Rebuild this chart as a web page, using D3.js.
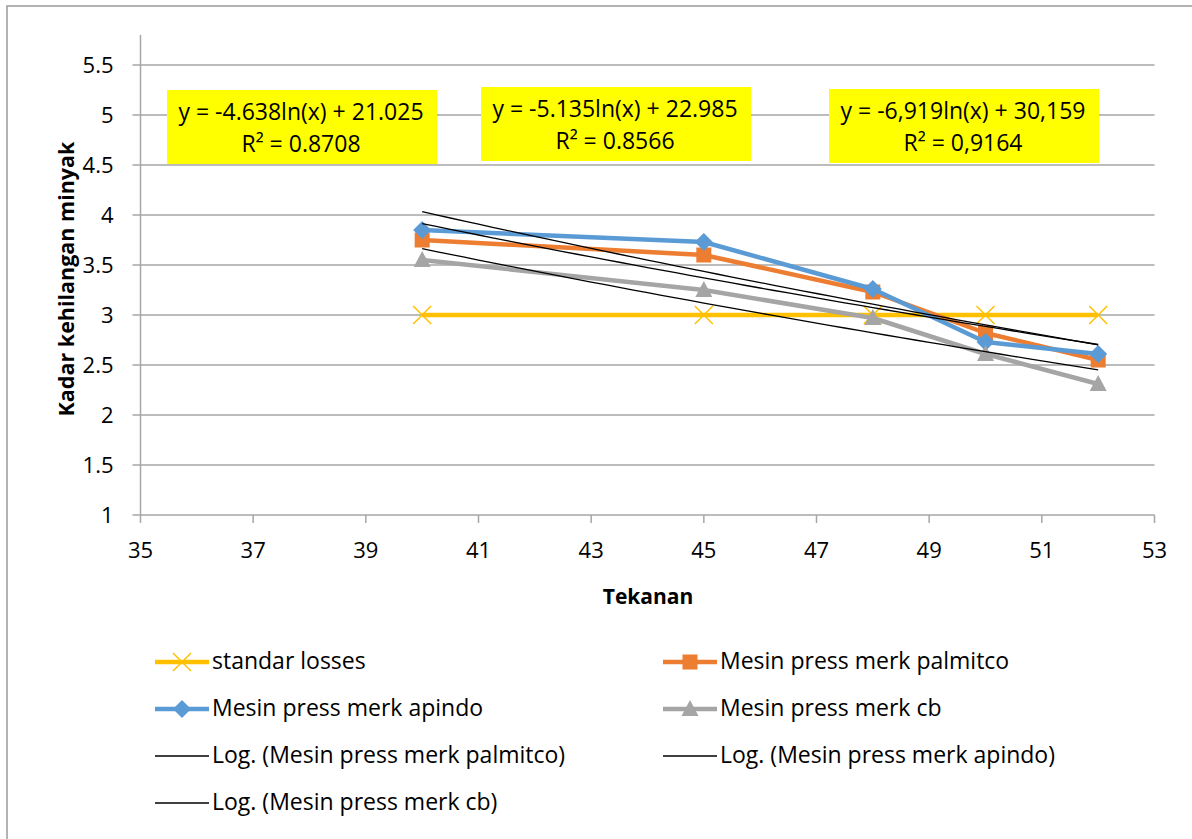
<!DOCTYPE html>
<html><head><meta charset="utf-8">
<script src="https://cdn.jsdelivr.net/npm/d3@7"></script>
<style>
html,body{margin:0;padding:0;background:#fff;}
text{font-family:"Open Sans","Noto Sans",sans-serif;fill:#000;}
</style></head>
<body><svg id="c" width="1192" height="839"></svg>
<script>
const xValues = [40, 45, 48, 50, 52];
const standarLosses = [3, 3, 3, 3, 3];
const palmitco = [3.75, 3.60, 3.23, 2.82, 2.55];
const apindo = [3.85, 3.73, 3.26, 2.73, 2.61];
const cb = [3.55, 3.25, 2.97, 2.61, 2.31];
const xTicks = [35, 37, 39, 41, 43, 45, 47, 49, 51, 53];
const yTicks = [1, 1.5, 2, 2.5, 3, 3.5, 4, 4.5, 5, 5.5];
const seriesNames = ["standar losses", "Mesin press merk palmitco", "Mesin press merk apindo", "Mesin press merk cb"];
const trendNames = ["Log. (Mesin press merk palmitco)", "Log. (Mesin press merk apindo)", "Log. (Mesin press merk cb)"];
const equations = [
  ["y = -4.638ln(x) + 21.025", "R² = 0.8708"],
  ["y = -5.135ln(x) + 22.985", "R² = 0.8566"],
  ["y = -6,919ln(x) + 30,159", "R² = 0,9164"]
];

// layout
const boxLayout = [{x: 167, y: 90}, {x: 481, y: 87}, {x: 829, y: 89}];
const svg = d3.select("#c");
const L = 140.5, R = 1154.5, T = 35, B = 515;
const x = d3.scaleLinear().domain([35, 53]).range([L, R]);
const y = d3.scaleLinear().domain([1, 5.8]).range([B, T]);

// outer border
svg.append("rect").attr("x", 7).attr("y", 6).attr("width", 1200).attr("height", 850)
  .attr("fill", "#fff").attr("stroke", "#9a9a9a").attr("stroke-width", 1.5);

// gridlines
svg.append("g").selectAll("line").data(yTicks).join("line")
  .attr("x1", L - 8).attr("x2", R).attr("y1", d => y(d)).attr("y2", d => y(d))
  .attr("stroke", "#a6a6a6").attr("stroke-width", 1.5);
svg.append("line").attr("x1", L).attr("x2", L).attr("y1", T).attr("y2", B)
  .attr("stroke", "#a6a6a6").attr("stroke-width", 1.5);
svg.append("g").selectAll("line").data(xTicks).join("line")
  .attr("x1", d => x(d)).attr("x2", d => x(d)).attr("y1", B).attr("y2", B + 8)
  .attr("stroke", "#a6a6a6").attr("stroke-width", 1.5);
// tick labels
svg.append("g").selectAll("text").data(xTicks).join("text")
  .attr("x", d => x(d)).attr("y", B + 43).attr("text-anchor", "middle")
  .attr("font-size", 22).text(d => d);
svg.append("g").selectAll("text").data(yTicks).join("text")
  .attr("x", L - 27).attr("y", d => y(d) + 8).attr("text-anchor", "end")
  .attr("font-size", 22).text(d => d);

// axis titles
svg.append("text").attr("x", 648).attr("y", 604).attr("text-anchor", "middle")
  .attr("font-size", 21).attr("font-weight", "bold").text("Tekanan");
svg.append("text").attr("transform", `translate(74,279) rotate(-90)`).attr("text-anchor", "middle")
  .attr("font-size", 21.5).attr("font-weight", "bold").text("Kadar kehilangan minyak");

// equation boxes
equations.forEach((eq, i) => {
  const g = svg.append("g");
  const b = boxLayout[i];
  g.append("rect").attr("x", b.x).attr("y", b.y)
    .attr("width", 270).attr("height", 74).attr("fill", "#ffff00");
  eq.forEach((t, j) => {
    g.append("text").attr("x", b.x + 134).attr("y", b.y + 30 + j * 32)
      .attr("text-anchor", "middle").attr("font-size", 23).text(t);
  });
});

const colors = ["#FFC000", "#ED7D31", "#5B9BD5", "#A5A5A5"];
const allSeries = [standarLosses, palmitco, apindo, cb];
const markers = ["x", "square", "diamond", "triangle"];
const line = d3.line().x(d => x(d[0])).y(d => y(d[1]));

function drawMarker(g, type, cx, cy, color) {
  if (type === "x") {
    const s = 9;
    g.append("path").attr("d", `M${cx-s},${cy-s}L${cx+s},${cy+s}M${cx-s},${cy+s}L${cx+s},${cy-s}`)
      .attr("stroke", color).attr("stroke-width", 1.5).attr("fill", "none");
  } else if (type === "square") {
    g.append("rect").attr("x", cx - 7.5).attr("y", cy - 7.5).attr("width", 15).attr("height", 15).attr("fill", color);
  } else if (type === "diamond") {
    const s = 9;
    g.append("path").attr("d", `M${cx},${cy-s}L${cx+s},${cy}L${cx},${cy+s}L${cx-s},${cy}Z`).attr("fill", color);
  } else {
    g.append("path").attr("d", `M${cx},${cy-9}L${cx+8.5},${cy+7}L${cx-8.5},${cy+7}Z`).attr("fill", color);
  }
}

allSeries.forEach((vals, i) => {
  const pts = xValues.map((xv, k) => [xv, vals[k]]);
  const g = svg.append("g");
  g.append("path").attr("d", line(pts)).attr("fill", "none").attr("stroke", colors[i])
    .attr("stroke-width", 4.5).attr("stroke-linejoin", "round");
  pts.forEach(p => drawMarker(g, markers[i], x(p[0]), y(p[1]), colors[i]));
});

// logarithmic trendlines (least squares on ln x)
function logFit(vals) {
  const lx = xValues.map(Math.log);
  const mx = d3.mean(lx), my = d3.mean(vals);
  const sxy = d3.sum(lx, (v, k) => (v - mx) * (vals[k] - my));
  const sxx = d3.sum(lx, v => (v - mx) ** 2);
  const a = sxy / sxx, b = my - a * mx;
  return xv => a * Math.log(xv) + b;
}
[palmitco, apindo, cb].forEach(vals => {
  const f = logFit(vals);
  const xs = d3.range(40, 52.001, 0.25);
  svg.append("path").attr("d", line(xs.map(v => [v, f(v)]))).attr("fill", "none")
    .attr("stroke", "#000").attr("stroke-width", 1.3);
});

// legend
const legendItems = [
  {name: seriesNames[0], color: colors[0], marker: "x", w: 4.5},
  {name: seriesNames[1], color: colors[1], marker: "square", w: 4.5},
  {name: seriesNames[2], color: colors[2], marker: "diamond", w: 4.5},
  {name: seriesNames[3], color: colors[3], marker: "triangle", w: 4.5},
  {name: trendNames[0], color: "#000", marker: null, w: 1.3},
  {name: trendNames[1], color: "#000", marker: null, w: 1.3},
  {name: trendNames[2], color: "#000", marker: null, w: 1.3}
];
const colX = [155, 663];
legendItems.forEach((it, i) => {
  const cx = colX[i % 2], cy = 662 + Math.floor(i / 2) * 47;
  const g = svg.append("g");
  g.append("line").attr("x1", cx).attr("x2", cx + 54).attr("y1", cy).attr("y2", cy)
    .attr("stroke", it.color).attr("stroke-width", it.w);
  if (it.marker) drawMarker(g, it.marker, cx + 27, cy, it.color);
  g.append("text").attr("x", cx + 57).attr("y", cy + 7).attr("font-size", 23).text(it.name);
});
</script></body></html>
